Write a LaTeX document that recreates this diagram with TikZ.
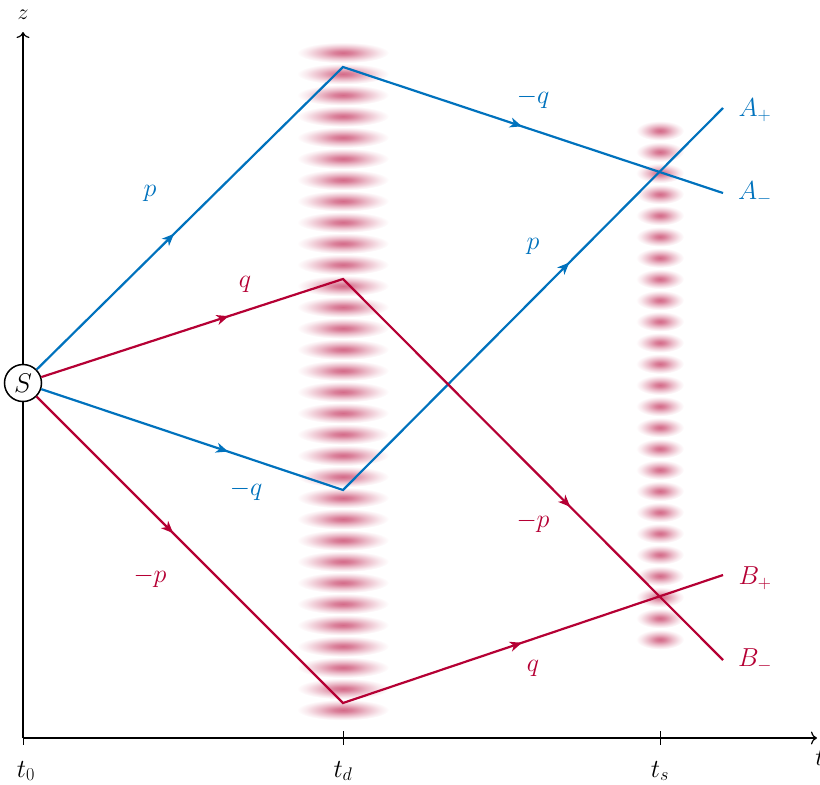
\RequirePackage{fix-cm}
\documentclass[tikz,border=0pt]{standalone}
\usetikzlibrary{arrows.meta,decorations.markings}
\definecolor{beamblue}{RGB}{0,114,189}
\definecolor{beamred}{RGB}{181,0,52}
\colorlet{blobc}{beamred!58!white}
\pgfdeclareradialshading{blobshade}{\pgfpointorigin}{color(0bp)=(blobc); color(5bp)=(blobc!85!white); color(13bp)=(blobc!45!white); color(20bp)=(blobc!15!white); color(25bp)=(white); color(50bp)=(white)}
\tikzset{
  axisline/.style={line width=1.4pt,-{Computer Modern Rightarrow[length=6pt,width=13pt,line width=1.2pt]}},
  tickline/.style={line width=0.6pt},
  beamline/.style={line width=2.2pt, line join=miter},
  bline/.style={beamline, beamblue},
  rline/.style={beamline, beamred},
  lbl/.style={font=\fontsize{26}{31}\selectfont, inner sep=0pt},
  blab/.style={lbl, text=beamblue},
  rlab/.style={lbl, text=beamred},
  midarrows/.style 2 args={postaction={decorate}, decoration={markings,
     mark=at position #1 with {\arrow{Stealth[length=12pt,width=10pt,inset=3.5pt]}},
     mark=at position #2 with {\arrow{Stealth[length=12pt,width=10pt,inset=3.5pt]}}}},
  blobd/.style={shading=blobshade},
}
\begin{document}
\begin{tikzpicture}[x=1pt,y=-1pt]
\useasboundingbox (0,0) rectangle (820,785);
% laser pulses
\foreach \i in {0,...,31} \shade[blobd] (343,52.7+21.2*\i) ellipse [x radius=46, y radius=10.5];
\foreach \i in {0,...,24} \shade[blobd] (660,130.7+21.2*\i) ellipse [x radius=24, y radius=10];
% axes
\coordinate (O) at (23,738);
\coordinate (zend) at (23,32);
\coordinate (tend) at (817,738);
\draw[axisline] (O) -- (zend);
\draw[axisline] (O) -- (tend);
\draw[tickline] (23,731) -- (23,745);
\draw[tickline] (343,731) -- (343,745);
\draw[tickline] (660,731) -- (660,745);
\node[lbl, font=\fontsize{22}{26}\selectfont] (zl) at (23,15) {$z$};
\node[lbl] (tl) at (820,757) {$t$};
\node[lbl] (t0) at (26,771) {$t_0$};
\node[lbl] (td) at (343,771) {$t_d$};
\node[lbl] (ts) at (660,771) {$t_s$};
% source
\node[circle, draw, line width=1.5pt, fill=white, minimum size=37pt, inner sep=0pt, font=\fontsize{27}{32}\selectfont] (S) at (23,383) {$S$};
% turning points and ends
\coordinate (P1) at (343,67);
\coordinate (Q1) at (343,490);
\coordinate (R1) at (343,279);
\coordinate (R2) at (343,703);
\coordinate (Am) at (723,193);
\coordinate (Ap) at (723,108);
\coordinate (Bm) at (723,660);
\coordinate (Bp) at (723,575);
% paths
\draw[bline, midarrows={193pt}{619pt}] (S) -- (P1) -- (Am);
\draw[bline, midarrows={197pt}{639pt}] (S) -- (Q1) -- (Ap);
\draw[rline, midarrows={197pt}{639pt}] (S) -- (R1) -- (Bm);
\draw[rline, midarrows={193pt}{622pt}] (S) -- (R2) -- (Bp);
% labels
\node[blab] (lp1) at (150,193) {$p$};
\node[rlab] (lq1) at (245,284) {$q$};
\node[blab] (lmq1) at (246,490) {$-q$};
\node[rlab] (lmp1) at (150,577) {$-p$};
\node[blab] (lmq2) at (533,98) {$-q$};
\node[blab] (lp2) at (533,246) {$p$};
\node[rlab] (lmp2) at (533,522) {$-p$};
\node[rlab] (lq2) at (533,668) {$q$};
\node[blab] (lAp) at (755,110) {$A_+$};
\node[blab] (lAm) at (755,193) {$A_-$};
\node[rlab] (lBp) at (755,578) {$B_+$};
\node[rlab] (lBm) at (755,660) {$B_-$};
\end{tikzpicture}
\end{document}
